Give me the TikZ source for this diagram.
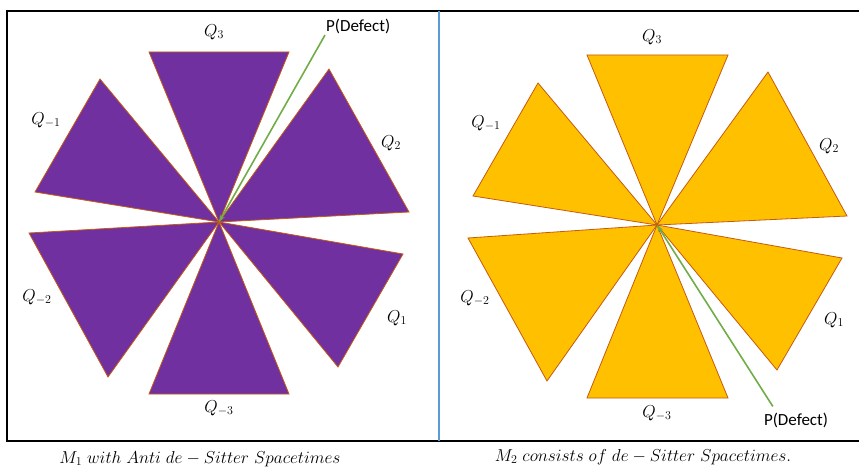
\documentclass[tikz,border=0pt]{standalone}
\usepackage{amsmath,amssymb}
\usepackage{fontspec}
\setsansfont{Carlito}
\usetikzlibrary{positioning,arrows.meta,calc}
\definecolor{plum}{HTML}{7030A0}
\definecolor{amber}{HTML}{FFC000}
\definecolor{rust}{HTML}{C55A11}
\definecolor{leaf}{HTML}{70AD47}
\definecolor{divider}{HTML}{5B9BD5}

\begin{document}
\begin{tikzpicture}[x=1pt,y=-1pt,
  wedgeA/.style={fill=plum,draw=rust,line width=0.8pt,line join=miter},
  wedgeB/.style={fill=amber,draw=rust,line width=0.8pt,line join=miter},
  qlab/.style={font=\fontsize{18}{21}\selectfont,inner sep=1pt},
  plab/.style={font=\sffamily\fontsize{17}{19}\selectfont,inner sep=1pt},
  captext/.style={font=\fontsize{16.5}{19}\selectfont,inner sep=1pt},
  defect/.style={draw=leaf,line width=1.6pt,-{Stealth[length=7pt,width=5pt]}},
  frame/.style={draw=black,line width=2pt}]
  \useasboundingbox (0,0) rectangle (859,468);
  % outer frame and divider
  \draw[frame] (859,11) -- (7,11) -- (7,441) -- (859,441);
  \draw[divider,line width=2pt] (439,11) -- (439,441);
  % left panel
  \coordinate (cL) at (219,222);
  \begin{scope}[shift={(219,222)}]
    \filldraw[wedgeA] (0,0) -- (-70,-170) -- (70,-170) -- cycle;
    \filldraw[wedgeA] (0,0) -- (110,-153) -- (190,-10) -- cycle;
    \filldraw[wedgeA] (0,0) -- (-119,-143) -- (-184,-30) -- cycle;
    \filldraw[wedgeA] (0,0) -- (-190,11) -- (-111,155) -- cycle;
    \filldraw[wedgeA] (0,0) -- (-70,172) -- (70,172) -- cycle;
    \filldraw[wedgeA] (0,0) -- (184,32) -- (119,145) -- cycle;
  \end{scope}
  \node[qlab] (q3L)  at (214,32)  {$Q_3$};
  \node[qlab] (q2L)  at (391,143) {$Q_2$};
  \node[qlab] (qm1L) at (46,120)  {$Q_{-1}$};
  \node[qlab] (qm2L) at (37,297)  {$Q_{-2}$};
  \node[qlab] (q1L)  at (397,318) {$Q_1$};
  \node[qlab] (qm3L) at (219,408) {$Q_{-3}$};
  \node[plab,anchor=south west] (pL) at (325,35) {P(Defect)};
  \draw[defect] (pL.south west) -- (cL);
  \node[captext] (capL) at (200,459) {$M_1\ with\ Anti\ de-Sitter\ Spacetimes$};
  % right panel
  \coordinate (cR) at (657,225);
  \begin{scope}[shift={(657,225)}]
    \filldraw[wedgeB] (0,0) -- (-70,-170) -- (71,-170) -- cycle;
    \filldraw[wedgeB] (0,0) -- (111,-153) -- (190,-9) -- cycle;
    \filldraw[wedgeB] (0,0) -- (-119,-142) -- (-184,-29) -- cycle;
    \filldraw[wedgeB] (0,0) -- (-189,13) -- (-110,156) -- cycle;
    \filldraw[wedgeB] (0,0) -- (-70,173) -- (71,173) -- cycle;
    \filldraw[wedgeB] (0,0) -- (185,33) -- (120,145) -- cycle;
  \end{scope}
  \node[qlab] (q3R)  at (652,37)  {$Q_3$};
  \node[qlab] (q2R)  at (829,146) {$Q_2$};
  \node[qlab] (qm1R) at (486,123) {$Q_{-1}$};
  \node[qlab] (qm2R) at (475,298) {$Q_{-2}$};
  \node[qlab] (q1R)  at (834,320) {$Q_1$};
  \node[qlab] (qm3R) at (657,413) {$Q_{-3}$};
  \node[plab] (pR) at (796,420) {P(Defect)};
  \draw[defect] ($(pR.north west)+(10,-5)$) -- (cR);
  \node[captext] (capR) at (643,457) {$M_2\ consists\ of\ de-Sitter\ Spacetimes.$};
\end{tikzpicture}
\end{document}
